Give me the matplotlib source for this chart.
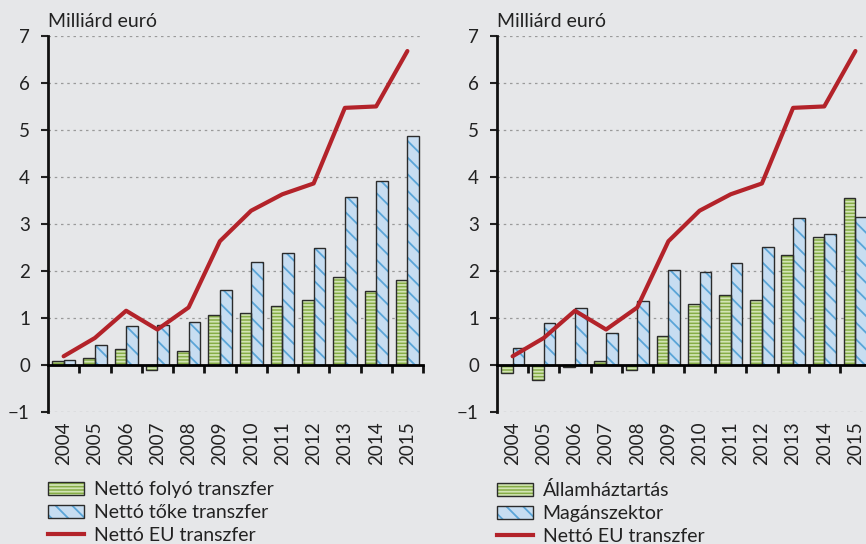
import matplotlib
matplotlib.use("Agg")
import matplotlib.pyplot as plt
from matplotlib.patches import Patch
from matplotlib.lines import Line2D
from matplotlib.legend_handler import HandlerTuple

plt.rcParams['font.family'] = ['Lato', 'DejaVu Sans']
plt.rcParams['hatch.linewidth'] = 1.3

years = ['2004', '2005', '2006', '2007', '2008', '2009', '2010', '2011', '2012', '2013', '2014', '2015']
eu_transfer = [0.18, 0.57, 1.15, 0.75, 1.22, 2.63, 3.28, 3.63, 3.86, 5.47, 5.50, 6.68]

# left panel
folyo = [0.07, 0.15, 0.33, -0.11, 0.30, 1.05, 1.10, 1.25, 1.38, 1.87, 1.56, 1.80]
toke = [0.10, 0.41, 0.82, 0.84, 0.92, 1.59, 2.18, 2.38, 2.48, 3.58, 3.91, 4.86]
left_labels = ['Nettó folyó transzfer', 'Nettó tőke transzfer', 'Nettó EU transzfer']

# right panel
allam = [-0.17, -0.32, -0.05, 0.07, -0.11, 0.61, 1.30, 1.48, 1.38, 2.33, 2.73, 3.55]
magan = [0.35, 0.88, 1.20, 0.67, 1.35, 2.01, 1.97, 2.16, 2.51, 3.12, 2.78, 3.15]
right_labels = ['Államháztartás', 'Magánszektor', 'Nettó EU transzfer']

BG = '#e6e7e9'
GREEN = '#86ad46'
GREEN_H = '#d2e4b4'
BLUE = '#c7ddf1'
BLUE_H = '#5aa5d8'
EDGE = '#2b2b2b'
RED = '#b3232a'
FS = 14
TFS = 13.5

fig = plt.figure(figsize=(8.66, 5.44), dpi=100, facecolor=BG)

W = 0.372

def panel(rect, s1, s2, labels, leg_x):
    ax = fig.add_axes(rect)
    ax.set_facecolor(BG)
    x = list(range(len(years)))
    xg = [i - W / 2 for i in x]
    xb = [i + W / 2 for i in x]
    ax.bar(xg, s1, W, color=GREEN, edgecolor=GREEN_H, hatch='-----', linewidth=0, zorder=3)
    ax.bar(xg, s1, W, fill=False, edgecolor=EDGE, linewidth=1.0, zorder=4)
    ax.bar(xb, s2, W, color=BLUE, edgecolor=BLUE_H, hatch='\\\\', linewidth=0, zorder=3)
    ax.bar(xb, s2, W, fill=False, edgecolor=EDGE, linewidth=1.0, zorder=4)
    ax.plot(x, eu_transfer, color=RED, linewidth=3.0, zorder=6, solid_capstyle='round')
    ax.set_xlim(-0.5, len(years) - 0.5)
    ax.set_ylim(-1, 7)
    ax.set_yticks(range(-1, 8))
    ax.set_yticklabels([('\u2212' + str(-v)) if v < 0 else str(v) for v in range(-1, 8)])
    ax.tick_params(axis='y', direction='out', length=5, width=1.5, pad=8, labelsize=TFS, colors='#222222')
    for v in range(-1, 8):
        if v != 0:
            ax.axhline(v, color='#9a9a9a', linestyle=(0, (2, 3)), linewidth=0.9, zorder=1)
    # zero axis with boundary ticks
    ax.spines['bottom'].set_position(('data', 0))
    ax.spines['bottom'].set_linewidth(2.0)
    ax.spines['bottom'].set_zorder(7)
    ax.set_xticks([i + 0.5 for i in x])
    ax.set_xticklabels([])
    ax.tick_params(axis='x', direction='out', length=6, width=2.0, colors='#111111')
    for sp in ['top', 'right']:
        ax.spines[sp].set_visible(False)
    ax.spines['left'].set_linewidth(2.0)
    ax.spines['left'].set_color('#111111')
    for i, yr in zip(x, years):
        ax.text(i, -0.025, yr, transform=ax.get_xaxis_transform(), rotation=90,
                ha='center', va='top', fontsize=TFS, color='#222222')
    ax.text(0, 1.015, 'Milliárd euró', transform=ax.transAxes, ha='left', va='bottom',
            fontsize=FS, color='#222222')
    hg = (Patch(facecolor=GREEN, edgecolor=GREEN_H, hatch='-----', linewidth=0),
          Patch(fill=False, edgecolor=EDGE, linewidth=1.0))
    hb = (Patch(facecolor=BLUE, edgecolor=BLUE_H, hatch='\\\\', linewidth=0),
          Patch(fill=False, edgecolor=EDGE, linewidth=1.0))
    hl = Line2D([], [], color=RED, linewidth=3.0)
    fig.legend([hg, hb, hl], labels, handler_map={tuple: HandlerTuple(ndivide=1)},
               loc='upper left', bbox_to_anchor=(leg_x, 1 - 481 / 544),
               frameon=False, fontsize=FS, borderpad=0, borderaxespad=0,
               handlelength=1.85, handleheight=0.65, handletextpad=0.5, labelspacing=0.31,
               labelcolor='#222222')
    return ax

bottom = (544 - 411.7) / 544
height = 375.7 / 544
panel([48 / 866, bottom, 375 / 866, height], folyo, toke, left_labels, 48 / 866)
panel([497 / 866, bottom, 374 / 866, height], allam, magan, right_labels, 497 / 866)

fig.savefig('out.png', dpi=100, facecolor=BG)
